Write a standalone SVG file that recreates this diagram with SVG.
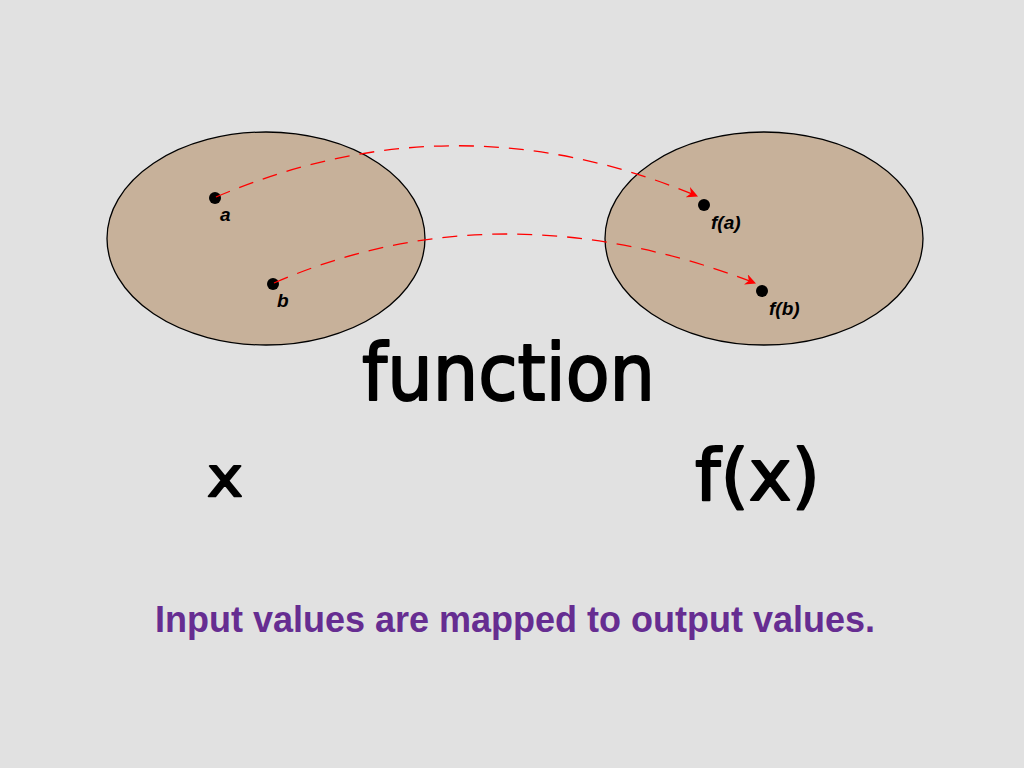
<svg xmlns="http://www.w3.org/2000/svg" width="1024" height="768" viewBox="0 0 1024 768">
<style>
.set{fill:#C7B19A;stroke:#000;stroke-width:1.3}
.dot{fill:#000}
.lbl{font-family:"Liberation Sans",Arial,sans-serif;font-weight:bold;font-style:italic;font-size:19px;fill:#000}
.arc{fill:none;stroke:#FF0000;stroke-width:1.3;stroke-dasharray:15 10}
.hand{font-family:"DejaVu Sans","Liberation Sans",sans-serif;fill:#000;stroke:#000;stroke-width:2;stroke-linejoin:round}
.cap{font-family:"Liberation Sans",Arial,sans-serif;font-weight:bold;font-size:36px;fill:#662D91}
</style>
<defs>
<marker id="ah" viewBox="0 0 10 10" refX="9" refY="5" markerWidth="11" markerHeight="11" markerUnits="userSpaceOnUse" orient="auto">
<path d="M0,0 L10,5 L0,10 L3,5 Z" fill="#FF0000"/>
</marker>
</defs>
<rect width="1024" height="768" fill="#E1E1E1"/>
<g id="domain">
<ellipse class="set" cx="266" cy="238.5" rx="159" ry="106.5"/>
</g>
<g id="codomain">
<ellipse class="set" cx="764" cy="238.5" rx="159" ry="106.5"/>
</g>
<g id="node-a">
<circle class="dot" cx="215" cy="198" r="6"/>
<text class="lbl" x="220" y="221">a</text>
</g>
<g id="node-b">
<circle class="dot" cx="273" cy="284" r="6"/>
<text class="lbl" x="277" y="307">b</text>
</g>
<g id="node-fa">
<circle class="dot" cx="704" cy="205" r="6"/>
<text class="lbl" x="711" y="229">f(<tspan>a</tspan>)</text>
</g>
<g id="node-fb">
<circle class="dot" cx="762" cy="291" r="6"/>
<text class="lbl" x="769" y="315">f(<tspan>b</tspan>)</text>
</g>
<g id="connectors">
<path class="arc" d="M216,197 Q455,95 697,196" marker-end="url(#ah)"/>
<path class="arc" d="M274,283 Q500,185 755,283" marker-end="url(#ah)"/>
</g>
<g id="labels">
<text class="hand" x="362" y="400" font-size="78" textLength="293" lengthAdjust="spacingAndGlyphs">function</text>
<text class="hand" x="207" y="496" font-size="56" textLength="36" lengthAdjust="spacingAndGlyphs">x</text>
<text class="hand" x="695" y="500" font-size="72" textLength="125" lengthAdjust="spacingAndGlyphs">f(x)</text>
<text class="cap" x="515" y="632" text-anchor="middle">Input values are mapped to output values.</text>
</g>
</svg>
